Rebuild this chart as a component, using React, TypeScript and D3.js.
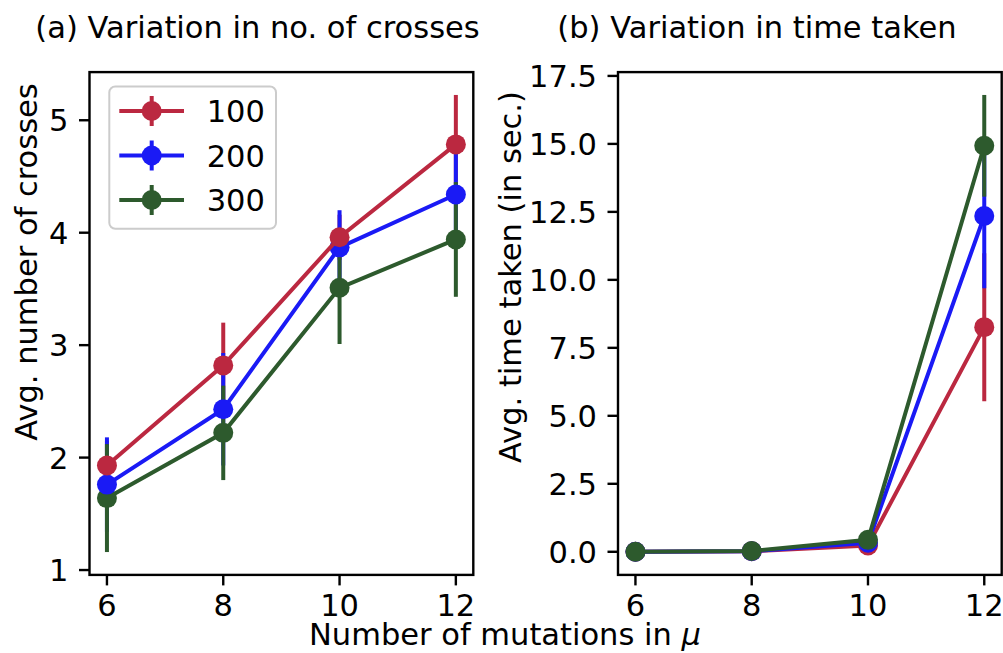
import React from "react";
import * as d3 from "d3";

// mutation counts on the x axis
const mutations = [6, 8, 10, 12];
const seriesNames = ["100", "200", "300"];
const colors = ["#bb2840", "#1a1af5", "#2d5a2d"];

// (a) average number of crosses, with error half-widths
const crosses100 = [1.93, 2.82, 3.96, 4.785];
const crosses200 = [1.76, 2.43, 3.87, 4.34];
const crosses300 = [1.64, 2.22, 3.51, 3.94];
const crossesErr100 = [0.22, 0.38, 0.2, 0.44];
const crossesErr200 = [0.42, 0.5, 0.33, 0.42];
const crossesErr300 = [0.48, 0.42, 0.5, 0.51];

// (b) average time taken in seconds
const time100 = [0.0, 0.02, 0.23, 8.26];
const time200 = [0.0, 0.02, 0.33, 12.35];
const time300 = [0.0, 0.03, 0.44, 14.93];
const timeErr100 = [0.01, 0.02, 0.05, 2.72];
const timeErr200 = [0.01, 0.02, 0.05, 2.66];
const timeErr300 = [0.01, 0.02, 0.05, 1.87];

const xTicks = [6, 8, 10, 12];
const crossTicks = [1, 2, 3, 4, 5];
const timeTicks = [0, 2.5, 5, 7.5, 10, 12.5, 15, 17.5];

const FONT = "'DejaVu Sans', sans-serif";
const FS = 30.5;
const top = 72.1, bottom = 574.9;

const pad = ([a, b]) => [a - (b - a) * 0.05, b + (b - a) * 0.05];

function Panel({ x0, x1, vals, errs, yTicks, fmt, order }) {
  const lo = vals.flatMap((v, i) => v.map((d, j) => d - errs[i][j]));
  const hi = vals.flatMap((v, i) => v.map((d, j) => d + errs[i][j]));
  const x = d3.scaleLinear().domain(pad(d3.extent(mutations))).range([x0, x1]);
  const y = d3.scaleLinear().domain(pad([d3.min(lo), d3.max(hi)])).range([bottom, top]);
  const line = d3.line().x((d, i) => x(mutations[i])).y((d) => y(d));
  return (
    <g>
      {/* error bars first, under all lines */}
      {[0, 1, 2].map((s) =>
        vals[s].map((d, i) => (
          <line key={`e${s}${i}`} x1={x(mutations[i])} x2={x(mutations[i])}
            y1={y(d - errs[s][i])} y2={y(d + errs[s][i])}
            stroke={colors[s]} strokeWidth={4} />
        ))
      )}
      {order.map((s) => (
        <g key={`s${s}`}>
          <path d={line(vals[s])} fill="none" stroke={colors[s]} strokeWidth={4} />
          {vals[s].map((d, i) => (
            <circle key={i} cx={x(mutations[i])} cy={y(d)} r={10} fill={colors[s]} />
          ))}
        </g>
      ))}
      <rect x={x0} y={top} width={x1 - x0} height={bottom - top} fill="none" stroke="#000" strokeWidth={2.4} />
      {xTicks.map((t) => (
        <g key={`x${t}`}>
          <line x1={x(t)} x2={x(t)} y1={bottom} y2={bottom + 10.5} stroke="#000" strokeWidth={2.4} />
          <text x={x(t)} y={616} textAnchor="middle" fontSize={FS} fontFamily={FONT}>{t}</text>
        </g>
      ))}
      {yTicks.map((t) => (
        <g key={`y${t}`}>
          <line x1={x0 - 10.5} x2={x0} y1={y(t)} y2={y(t)} stroke="#000" strokeWidth={2.4} />
          <text x={x0 - 21} y={y(t) + 11} textAnchor="end" fontSize={FS} fontFamily={FONT}>{fmt(t)}</text>
        </g>
      ))}
    </g>
  );
}

function Legend() {
  const rows = [111, 155.5, 200];
  return (
    <g>
      <rect x={109.3} y={86.5} width={166.7} height={142.3} rx={6} fill="#fff" fillOpacity={0.8} stroke="#cccccc" strokeWidth={2} />
      {seriesNames.map((n, i) => (
        <g key={n}>
          <line x1={119.3} x2={184} y1={rows[i]} y2={rows[i]} stroke={colors[i]} strokeWidth={4} />
          <line x1={151.7} x2={151.7} y1={rows[i] - 15} y2={rows[i] + 15} stroke={colors[i]} strokeWidth={4} />
          <circle cx={151.7} cy={rows[i]} r={10} fill={colors[i]} />
          <text x={206.7} y={rows[i] + 11} fontSize={FS} fontFamily={FONT}>{n}</text>
        </g>
      ))}
    </g>
  );
}

export default function App() {
  return (
    <svg width={1003} height={653} style={{ position: "absolute", left: 0, top: 0, background: "#fff" }}>
      <rect width={1003} height={653} fill="#fff" />
      <Panel x0={89.5} x1={473.3}
        vals={[crosses100, crosses200, crosses300]}
        errs={[crossesErr100, crossesErr200, crossesErr300]}
        yTicks={crossTicks} fmt={(t) => String(t)} order={[2, 1, 0]} />
      <Panel x0={618} x1={1001.7}
        vals={[time100, time200, time300]}
        errs={[timeErr100, timeErr200, timeErr300]}
        yTicks={timeTicks} fmt={(t) => t.toFixed(1)} order={[0, 1, 2]} />
      <Legend />
      <text x={257.5} y={37.5} textAnchor="middle" fontSize={FS} fontFamily={FONT}>(a) Variation in no. of crosses</text>
      <text x={757} y={37.5} textAnchor="middle" fontSize={FS} fontFamily={FONT}>(b) Variation in time taken</text>
      <text transform="translate(37,262) rotate(-90)" textAnchor="middle" fontSize={FS} fontFamily={FONT}>Avg. number of crosses</text>
      <text transform="translate(521,277) rotate(-90)" textAnchor="middle" fontSize={FS} fontFamily={FONT}>Avg. time taken (in sec.)</text>
      <text x={505} y={645} textAnchor="middle" fontSize={FS} fontFamily={FONT}>
        Number of mutations in <tspan fontStyle="italic">μ</tspan>
      </text>
    </svg>
  );
}
